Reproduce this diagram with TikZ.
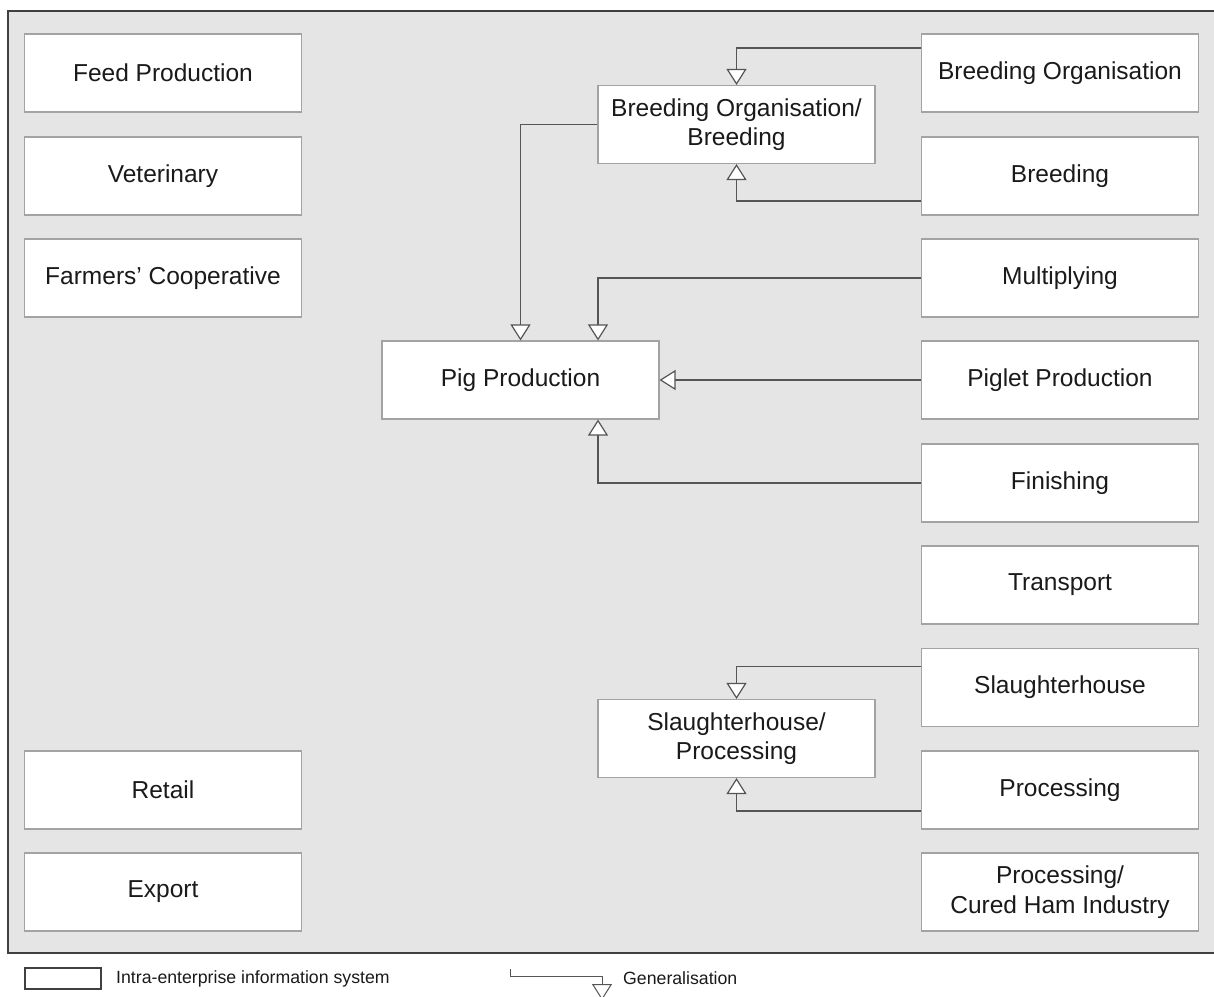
\documentclass[tikz,border=0pt]{standalone}
\usepackage{fontspec}
\setmainfont{Liberation Sans}
\usetikzlibrary{arrows.meta}
\definecolor{panelfill}{HTML}{E5E5E5}
\definecolor{panelline}{HTML}{404040}
\definecolor{boxline}{HTML}{A3A3A3}
\definecolor{linkline}{HTML}{555555}
\definecolor{inktext}{HTML}{1A1A1A}
\tikzset{
  sysbox/.style={draw=boxline, line width=1.1pt, fill=white, text=inktext,
    minimum width=277pt, minimum height=78pt, inner sep=0pt, align=center,
    font=\fontsize{24.5}{29.4}\selectfont},
  gen/.style={draw=linkline, line width=1.2pt,
    -{Triangle[open, length=16pt, width=20pt, fill=white]}},
  legendtext/.style={anchor=west, text=inktext, inner sep=0pt,
    font=\fontsize{17.7}{21}\selectfont}
}
\begin{document}
\begin{tikzpicture}[x=1pt, y=-1pt]
\useasboundingbox (0,0) rectangle (1214,996);
% grey panel holding all systems
\draw[draw=panelline, line width=1.5pt, fill=panelfill] (8,11) rectangle (1240,953);

% left column
\node[sysbox] (feed) at (163,73) {Feed Production};
\node[sysbox] (vet)  at (163,176) {Veterinary};
\node[sysbox] (coop) at (163,278) {Farmers' Cooperative};
\node[sysbox] (ret)  at (163,790) {Retail};
\node[sysbox] (exp)  at (163,892) {Export};

% right column
\node[sysbox] (bo)   at (1060,73) {Breeding Organisation};
\node[sysbox] (br)   at (1060,176) {Breeding};
\node[sysbox] (mult) at (1060,278) {Multiplying};
\node[sysbox] (pig)  at (1060,380) {Piglet Production};
\node[sysbox] (fin)  at (1060,483) {Finishing};
\node[sysbox] (tra)  at (1060,585) {Transport};
\node[sysbox] (sla)  at (1060,687.5) {Slaughterhouse};
\node[sysbox] (pro)  at (1060,790) {Processing};
\node[sysbox] (ham)  at (1060,892) {Processing/\\Cured Ham Industry};

% generalised systems
\node[sysbox] (bob) at (736.5,124.5) {Breeding Organisation/\\Breeding};
\node[sysbox] (pp)  at (520.5,380) {Pig Production};
\node[sysbox] (sp)  at (736.5,738.5) {Slaughterhouse/\\Processing};

% generalisation links
\draw[gen] ([yshift=25pt]bo.west) -| (bob.north);
\draw[gen] ([yshift=-25pt]br.west) -| (bob.south);
\draw[gen] (bob.west) -| (pp.north);
\draw[gen] (mult.west) -| ([xshift=77.5pt]pp.north);
\draw[gen] (pig.west) -- (pp.east);
\draw[gen] (fin.west) -| ([xshift=77.5pt]pp.south);
\draw[gen] ([yshift=21pt]sla.west) -| (sp.north);
\draw[gen] ([yshift=-21pt]pro.west) -| (sp.south);

% legend
\node[draw=panelline, line width=1.1pt, minimum width=76pt, minimum height=21pt,
  inner sep=0pt] (lbox) at (63,978.5) {};
\node[legendtext] (ltext) at (116,978.5) {Intra-enterprise information system};
\coordinate (lg0) at (510,969);
\coordinate (lg1) at (602,1000);
\draw[gen, line width=1pt] (lg0) |- (602,976) -- (lg1);
\node[legendtext] (gtext) at (623,978.5) {Generalisation};
\end{tikzpicture}
\end{document}
